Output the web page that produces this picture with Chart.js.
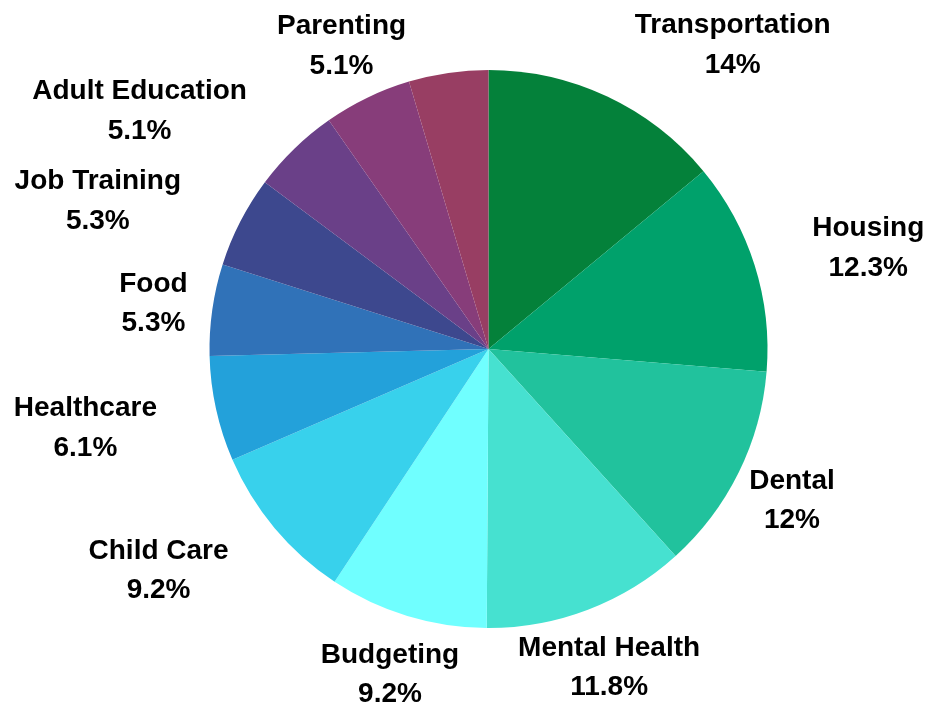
<!DOCTYPE html>
<html>
<head>
<meta charset="utf-8">
<script src="https://cdn.jsdelivr.net/npm/chart.js@4/dist/chart.umd.min.js"></script>
<style>
  html, body { margin: 0; padding: 0; background: #ffffff; }
  #wrap { position: relative; width: 928px; height: 707px; }
</style>
</head>
<body>
<div id="wrap"><canvas id="chart" width="928" height="707"></canvas></div>
<script>
// Service categories and their shares (percent)
const categories = [
  'Transportation', 'Housing', 'Dental', 'Mental Health', 'Budgeting',
  'Child Care', 'Healthcare', 'Food', 'Job Training', 'Adult Education',
  'Parenting', 'Other'
];
const shares = [14, 12.3, 12, 11.8, 9.2, 9.2, 6.1, 5.3, 5.3, 5.1, 5.1, 4.6];
const valueLabels = ['14%', '12.3%', '12%', '11.8%', '9.2%', '9.2%', '6.1%', '5.3%', '5.3%', '5.1%', '5.1%', ''];

const sliceColors = [
  '#04813a', '#00a16b', '#21c29d', '#46e1d0', '#70ffff', '#38d1ec',
  '#23a1da', '#3072b8', '#3d488e', '#6a4088', '#873d7a', '#983e63'
];

// Labels sit outside the pie along each slice's middle angle; a few are
// pushed outward / rotated so that neighbouring labels do not collide.
const labelTweaks = {
  'Transportation':  { rot: 13.4, push: 53 },
  'Housing':         { rot: 2.3,  push: 55 },
  'Child Care':      { rot: 6.3,  push: 58 },
  'Healthcare':      { rot: 1.6,  push: 72 },
  'Job Training':    { rot: -6.2, push: 80 },
  'Adult Education': { rot: -11.4, push: 85 }
};

const outsideLabels = {
  id: 'outsideLabels',
  afterDatasetsDraw(chart) {
    const ctx = chart.ctx;
    const meta = chart.getDatasetMeta(0);
    ctx.save();
    ctx.fillStyle = '#000000';
    ctx.font = 'bold 28px "Liberation Sans", Arial, sans-serif';
    ctx.textAlign = 'center';
    ctx.textBaseline = 'alphabetic';
    meta.data.forEach((arc, i) => {
      const value = valueLabels[i];
      if (!value) return;
      const name = categories[i];
      const t = labelTweaks[name] || { rot: 0, push: 0 };
      const mid = (arc.startAngle + arc.endAngle) / 2 + t.rot * Math.PI / 180;
      const R = arc.outerRadius * 1.213 + t.push;
      const cx = arc.x + R * Math.cos(mid);
      const cy = arc.y + R * Math.sin(mid);
      ctx.fillText(name, cx, cy - 9.7);
      ctx.fillText(value, cx, cy + 29.6);
    });
    ctx.restore();
  }
};

new Chart(document.getElementById('chart'), {
  type: 'pie',
  data: {
    labels: categories,
    datasets: [{
      data: shares,
      backgroundColor: sliceColors,
      borderWidth: 0,
      hoverOffset: 0
    }]
  },
  options: {
    responsive: false,
    animation: false,
    layout: { padding: { top: 70, bottom: 79, left: 209, right: 160 } },
    plugins: {
      legend: { display: false },
      tooltip: { enabled: false }
    }
  },
  plugins: [outsideLabels]
});
</script>
</body>
</html>
